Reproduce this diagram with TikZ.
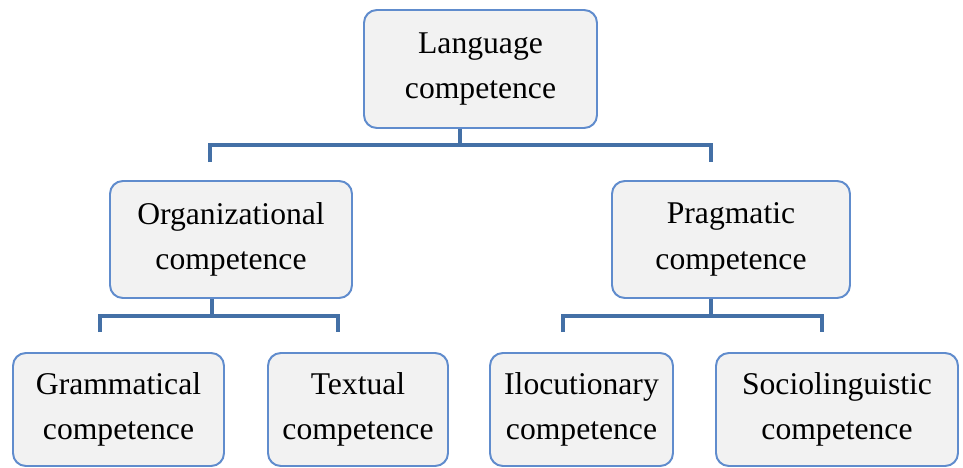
\documentclass[tikz,border=0pt]{standalone}
\usepackage{fontspec}
\setmainfont{Liberation Serif}
\usetikzlibrary{calc}
\definecolor{boxline}{RGB}{96,140,205}
\definecolor{boxfill}{RGB}{242,242,242}
\definecolor{linkcol}{RGB}{68,112,166}
\tikzset{
	compbox/.style={draw=boxline, line width=1.4pt, fill=boxfill, rounded corners=0.32cm,
		align=center, inner sep=0pt, font=\fontsize{22.5}{32.5}\selectfont},
	link/.style={draw=linkcol, line width=3.4pt}
}

\begin{document}
\begin{tikzpicture}[x=0.025cm, y=-0.025cm]
		%%%%% START %%%%%
		\useasboundingbox (0,0) rectangle (963,468);
		
		% top level
		\node[compbox, minimum width=233*0.025cm, minimum height=118*0.025cm] (lang) at (480.5,69) {Language\\competence};
		
		% second level
		\node[compbox, minimum width=242*0.025cm, minimum height=117*0.025cm] (org) at (231,239.5) {Organizational\\competence};
		\node[compbox, minimum width=238*0.025cm, minimum height=117*0.025cm] (prag) at (731,239.5) {Pragmatic\\competence};
		
		% third level
		\node[compbox, minimum width=211*0.025cm, minimum height=113*0.025cm] (gram) at (118.5,409.5) {Grammatical\\competence};
		\node[compbox, minimum width=180*0.025cm, minimum height=113*0.025cm] (text) at (358,409.5) {Textual\\competence};
		\node[compbox, minimum width=183*0.025cm, minimum height=113*0.025cm] (iloc) at (581.5,409.5) {Ilocutionary\\competence};
		\node[compbox, minimum width=242*0.025cm, minimum height=113*0.025cm] (socio) at (837,409.5) {Sociolinguistic\\competence};
		
		% bracket ends
		\coordinate (orgtop) at (210,162);
		\coordinate (pragtop) at (711,162);
		\coordinate (gramtop) at (100,332);
		\coordinate (texttop) at (338,332);
		\coordinate (iloctop) at (563,332);
		\coordinate (sociotop) at (822,332);
		
		% brackets
		\draw[link] (lang.south -| 460,0) -- (460,145);
		\draw[link] (orgtop) -- ++(0,-17) -| (pragtop);
		
		\draw[link] (org.south -| 212,0) -- (212,316);
		\draw[link] (gramtop) -- ++(0,-16) -| (texttop);
		
		\draw[link] (prag.south -| 711,0) -- (711,316);
		\draw[link] (iloctop) -- ++(0,-16) -| (sociotop);
		%%%%% END %%%%%
\end{tikzpicture}
\end{document}
